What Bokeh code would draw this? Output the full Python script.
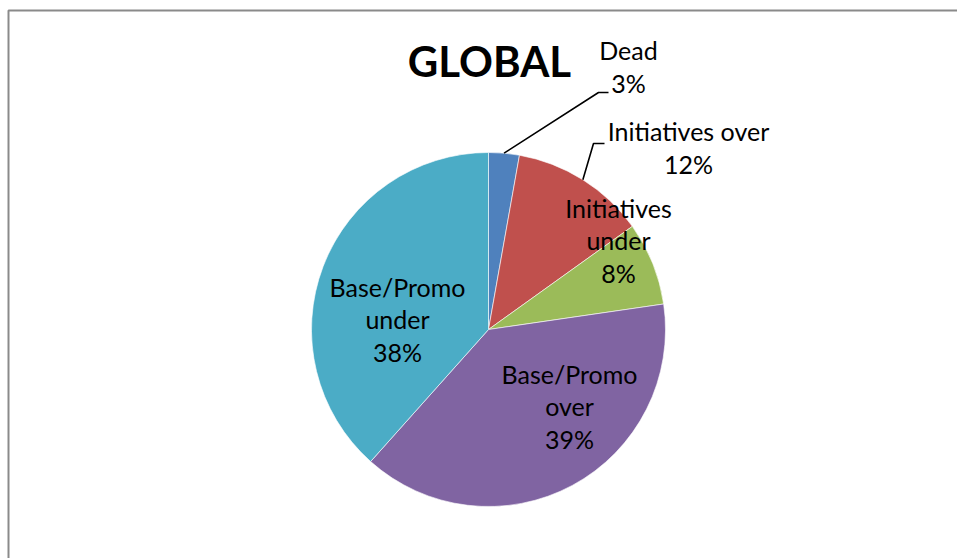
import math
from bokeh.plotting import figure
from bokeh.models import Range1d, ColumnDataSource
from bokeh.embed import file_html
from bokeh.resources import INLINE
from bokeh.core.properties import value

# ---- data ----
categories = ["Dead", "Initiatives over", "Initiatives under", "Base/Promo over", "Base/Promo under"]
shares = [2.8, 12.3, 7.6, 38.9, 38.4]
colors = ["#4F81BD", "#C0504D", "#9BBB59", "#8064A2", "#4BACC6"]
title_text = "GLOBAL"

# ---- layout (pixel space, y measured from top) ----
W, H = 957, 558
CX, CY_TOP, R = 488, 329, 177
label_inside = [False, False, True, True, True]
label_pos_px = [(628, 66), (688, 147), (618, 240), (569, 406), (397, 319)]
leader_elbow_px = {0: [(598, 92), (608, 92)], 1: [(593, 143), (604, 143)]}

def fy(y_px):
    return H - y_px

CY = fy(CY_TOP)
total = float(sum(shares))
starts, ends, mids = [], [], []
cum = 0.0
for s in shares:
    a0 = math.pi / 2 - 2 * math.pi * cum / total
    cum += s
    a1 = math.pi / 2 - 2 * math.pi * cum / total
    starts.append(a1)
    ends.append(a0)
    mids.append((a0 + a1) / 2)

src = ColumnDataSource(dict(cat=categories, share=shares, color=colors,
                            start=starts, end=ends))

p = figure(width=W, height=H, output_backend="svg", toolbar_location=None,
           x_range=Range1d(0, W), y_range=Range1d(0, H),
           x_axis_location=None, y_axis_location=None, min_border=0)
p.grid.visible = False
p.outline_line_color = None
p.background_fill_color = "white"
p.border_fill_color = "white"

# chart area frame
p.quad(left=8, right=W + 30, bottom=-30, top=fy(10), fill_color=None,
       line_color="#8a8a8a", line_width=2)

p.wedge(x=CX, y=CY, radius=R, start_angle="start", end_angle="end",
        fill_color="color", line_color="white", line_width=0.6, source=src)

# leader lines for outside labels
xs, ys = [], []
for i, pts in leader_elbow_px.items():
    sx = CX + R * math.cos(mids[i])
    sy = CY + R * math.sin(mids[i])
    xs.append([sx] + [q[0] for q in pts])
    ys.append([sy] + [fy(q[1]) for q in pts])
p.multi_line(xs=xs, ys=ys, line_color="black", line_width=1.6)

# labels
texts, lx, ly = [], [], []
for i, (c, s) in enumerate(zip(categories, shares)):
    name = c.replace(" ", "\n") if label_inside[i] else c
    texts.append(f"{name}\n{round(s / total * 100):.0f}%")
    lx.append(label_pos_px[i][0])
    ly.append(fy(label_pos_px[i][1]))
p.text(x=lx, y=ly, text=texts, text_align="center", text_baseline="middle",
       text_font=value("Lato"), text_font_size="25px", text_color="black",
       text_line_height=1.08)

p.text(x=[489], y=[fy(60)], text=[title_text], text_align="center",
       text_baseline="middle", text_font=value("Lato"),
       text_font_style="bold", text_font_size="42px", text_color="black")

open("out.html", "w").write(file_html(p, INLINE))
